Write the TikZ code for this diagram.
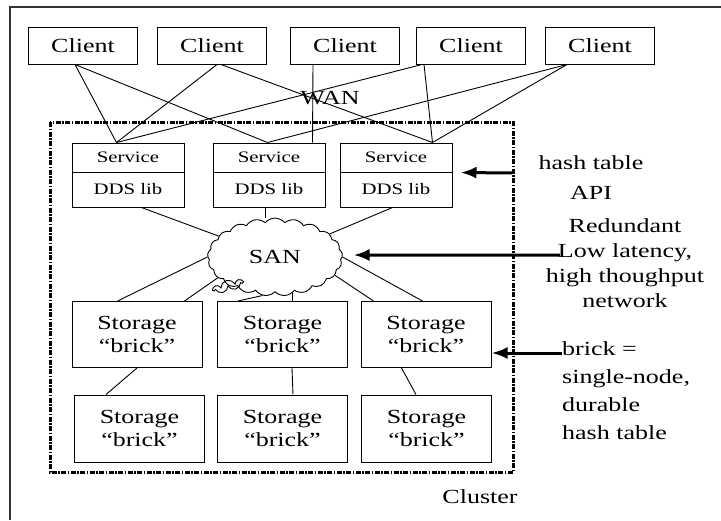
\documentclass[tikz,border=0pt]{standalone}
\usepackage{fontspec}
\setmainfont{Liberation Serif}[FakeStretch=1.3]
\usetikzlibrary{shapes.symbols,arrows.meta}
\begin{document}
\begin{tikzpicture}[x=1pt,y=-1pt,
    box/.style={draw,line width=1pt,inner sep=0pt},
    client/.style={box,minimum width=109pt,minimum height=37pt,font=\fontsize{20}{24}\selectfont},
    svc/.style={box,minimum width=112pt,minimum height=29pt,font=\fontsize{16}{18}\selectfont},
    lib/.style={box,minimum width=112pt,minimum height=35pt,font=\fontsize{16}{18}\selectfont},
    brick/.style={box,minimum width=130pt,minimum height=66pt,align=center,font=\fontsize{20}{23}\selectfont},
    note/.style={inner sep=0pt,font=\fontsize{20}{25}\selectfont},
    wire/.style={line width=0.9pt},
    pointer/.style={line width=3pt,-{Latex[length=16pt,width=12pt]}}]
      \useasboundingbox (0,0) rectangle (721,520);
      \draw[line width=1.5pt,black!80] (10,520) -- (10,7) -- (721,7);
      \draw[line width=3pt,dash pattern=on 5pt off 1.5pt on 1.5pt off 1.5pt]
        (50,122) rectangle (513,472);
      \node[client] (c1) at (83,45.5) {Client};
      \node[client] (c2) at (212,45.5) {Client};
      \node[client] (c3) at (345,45.5) {Client};
      \node[client] (c4) at (471,45.5) {Client};
      \node[client] (c5) at (600,45.5) {Client};
      \node[note] (wan) at (330,98) {WAN};
      \node[svc] (s1) at (128,157.5) {Service};
      \node[svc] (s2) at (269,157.5) {Service};
      \node[svc] (s3) at (396,157.5) {Service};
      \node[lib] (l1) at (128,189.5) {DDS lib};
      \node[lib] (l2) at (269,189.5) {DDS lib};
      \node[lib] (l3) at (396,189.5) {DDS lib};
      \node[cloud,draw,wire,cloud puffs=21,cloud puff arc=100,minimum width=135pt,
        minimum height=49pt,inner sep=0pt,font=\fontsize{20}{24}\selectfont] (san) at (275,257) {SAN};
      \node[cloud,draw,wire,cloud puffs=7,minimum width=30pt,minimum height=11pt,
        inner sep=0pt,rotate=15] (puff) at (228,286) {};
      \node[brick] (b1) at (137,334.5) {Storage\\“brick”};
      \node[brick] (b2) at (282.5,334.5) {Storage\\“brick”};
      \node[brick] (b3) at (426,334.5) {Storage\\“brick”};
      \node[brick,minimum height=67pt] (d1) at (139.5,428.5) {Storage\\“brick”};
      \node[brick,minimum height=67pt] (d2) at (282.5,428.5) {Storage\\“brick”};
      \node[brick,minimum height=67pt] (d3) at (426.5,428.5) {Storage\\“brick”};
      \node[note,align=center,font=\fontsize{20}{30}\selectfont] (api) at (591,178) {hash table\\API};
      \node[note,align=center] (net) at (625,263) {Redundant\\Low latency,\\high thoughput\\network};
      \node[note,align=left,anchor=west,font=\fontsize{20}{28}\selectfont] (brk) at (562,391)
        {brick =\\single-node,\\durable\\hash table};
      \node[note] (cluster) at (480,497) {Cluster};
      \coordinate (apitail) at (512,173);
      \coordinate (santail) at (560,255);
      \coordinate (brktail) at (562,353);
      \begin{scope}[wire]
        \draw ([xshift=47pt]c1.south west) to ([xshift=45pt]s1.north west);
        \draw ([xshift=47pt]c1.south west) to ([xshift=55pt]s2.north west);
        \draw ([xshift=60pt]c2.south west) to ([xshift=45pt]s1.north west);
        \draw ([xshift=64pt]c2.south west) to ([xshift=93pt]s3.north west);
        \draw ([xshift=23pt]c3.south west) to ([xshift=100pt]s2.north west);
        \draw ([xshift=6pt]c4.south west) to ([xshift=45pt]s1.north west);
        \draw ([xshift=8pt]c4.south west) to ([xshift=93pt]s3.north west);
        \draw ([xshift=22pt]c5.south west) to ([xshift=55pt]s2.north west);
        \draw ([xshift=22pt]c5.south west) to ([xshift=93pt]s3.north west);
        \draw ([xshift=70pt]l1.south west) to (san);
        \draw ([xshift=53pt]l2.south west) to ([xshift=53pt]l2.south west |- san.north);
        \draw ([xshift=53pt]l3.south west) to (san);
        \draw ([xshift=46pt]b1.north west) to (san.west);
        \draw ([xshift=113pt]b1.north west) to (san.200);
        \draw ([xshift=21pt]b2.north west) to (san.252);
        \draw ([xshift=75pt]b2.north west) to ([xshift=75pt]b2.north west |- san.south);
        \draw ([xshift=13pt]b3.north west) to (san.-17);
        \draw ([xshift=62pt]b3.north west) to (san.east);
        \draw (b1.south) to ([xshift=32pt]d1.north west);
        \draw ([xshift=75pt]b2.south west) to ([xshift=76pt]d2.north west);
        \draw ([xshift=41pt]b3.south west) to ([xshift=55pt]d3.north west);
      \end{scope}
      \begin{scope}[pointer]
        \draw (apitail) to ([xshift=8pt]s3.south east);
        \draw (santail) to ([xshift=11pt,yshift=2pt]san.east);
        \draw (brktail) to ([yshift=-18.5pt]b3.east);
      \end{scope}
    \end{tikzpicture}
\end{document}
